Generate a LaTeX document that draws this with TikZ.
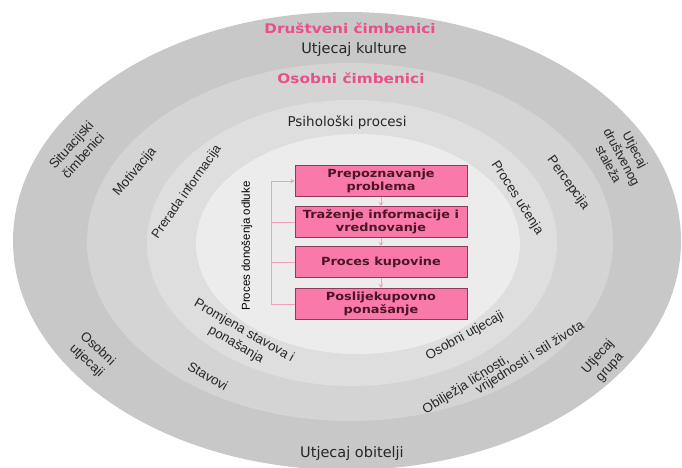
\documentclass[tikz,border=0pt]{standalone}
\usepackage{fontspec}
\setmainfont{Liberation Sans}
\newfontfamily\hfont{DejaVu Sans}
\newfontfamily\hbfont[FakeStretch=1.15]{DejaVu Sans}
\usetikzlibrary{arrows.meta}
\definecolor{ringA}{HTML}{C8C8C8}
\definecolor{ringB}{HTML}{D4D4D4}
\definecolor{ringC}{HTML}{DEDEDE}
\definecolor{ringD}{HTML}{ECECEC}
\definecolor{headpink}{HTML}{E8508A}
\definecolor{boxpink}{HTML}{F97AAA}
\definecolor{boxborder}{HTML}{8E3A58}
\definecolor{boxtxt}{HTML}{4A1626}
\definecolor{connpink}{HTML}{F2A0BC}
\definecolor{txt}{HTML}{262626}
\begin{document}
\begin{tikzpicture}[x=1pt,y=-1pt,
  lab/.style={font=\fontsize{13.3}{16}\selectfont, text=txt, align=center, inner sep=0pt},
  slab/.style={lab, font=\fontsize{12.8}{15}\selectfont},
  hlab/.style={font=\hfont\fontsize{14.5}{17}\selectfont, text=txt, inner sep=0pt},
  head/.style={font=\hbfont\bfseries\fontsize{13.3}{16}\selectfont, text=headpink, inner sep=0pt},
  stepbox/.style={draw=boxborder, fill=boxpink, line width=0.8pt, minimum width=172pt,
    minimum height=31pt, align=center, inner sep=0pt,
    font=\hbfont\bfseries\fontsize{11.2}{12.8}\selectfont, text=boxtxt},
  conn/.style={draw=connpink, line width=0.9pt},
  tip/.style={-{Stealth[length=4pt,width=4.5pt]}}
]
\useasboundingbox (0,0) rectangle (682,467);
\clip (0,0) rectangle (682,467);
\fill[white] (0,0) rectangle (682,467);
% rings
\fill[ringA] (347,241) ellipse [x radius=334, y radius=229];
\fill[ringB] (350,242) ellipse [x radius=263, y radius=179];
\fill[ringC] (352,243) ellipse [x radius=205, y radius=143];
\fill[ringD] (358,244) ellipse [x radius=162, y radius=110];

% horizontal headings
\node[head] (dr) at (350,28) {Društveni čimbenici};
\node[hlab] (kult) at (354,49) {Utjecaj kulture};
\node[head] (osc) at (351,78) {Osobni čimbenici};
\node[hlab, font=\hfont\fontsize{13.5}{16}\selectfont] (psi) at (347,122) {Psihološki procesi};
\node[hlab] (obit) at (352,453) {Utjecaj obitelji};

% rotated labels
\node[lab, rotate=48] (sit) at (77,150) {Situacijski\\čimbenici};
\node[lab, rotate=50] (mot) at (135,172) {Motivacija};
\node[slab, rotate=55] (prer) at (187,192) {Prerada informacija};
\node[lab, font=\fontsize{11.5}{13}\selectfont, text=black, rotate=90] (pdo) at (247,246) {Proces donošenja odluke};
\node[slab, rotate=-62] (drs) at (622,157) {Utjecaj\\društvenog\\staleža};
\node[lab, rotate=-54] (perc) at (568,183) {Percepcija};
\node[lab, rotate=-57] (uce) at (517,198) {Proces učenja};
\node[lab, rotate=-43] (osu1) at (92,355) {Osobni\\utjecaji};
\node[lab, rotate=-30] (stav) at (208,376) {Stavovi};
\node[lab, rotate=-30] (prom) at (240,338) {Promjena stavova i\\ponašanja};
\node[lab, rotate=29] (osu2) at (465,336) {Osobni utjecaji};
\node[lab, rotate=32] (obil1) at (466,385) {Obilježja ličnosti,};
\node[lab, rotate=32] (obil2) at (530,358) {vrijednosti i stil života};
\node[lab, rotate=48] (grp) at (604,362) {Utjecaj\\grupa};

% process boxes
\node[stepbox] (b1) at (381,181) {Prepoznavanje\\problema};
\node[stepbox] (b2) at (381,222) {Traženje informacije i\\vrednovanje};
\node[stepbox] (b3) at (381,262) {Proces kupovine};
\node[stepbox] (b4) at (381,304) {Poslijekupovno\\ponašanje};

% connectors
\draw[conn, tip] (b1) -- (b2);
\draw[conn, tip] (b2) -- (b3);
\draw[conn, tip] (b3) -- (b4);
\coordinate (L) at (271,0);
\draw[conn, tip] (b4.west) -- (b4.west -| L) |- (b1.west);
\draw[conn] (b2.west) -- (b2.west -| L);
\draw[conn] (b3.west) -- (b3.west -| L);
\end{tikzpicture}
\end{document}
